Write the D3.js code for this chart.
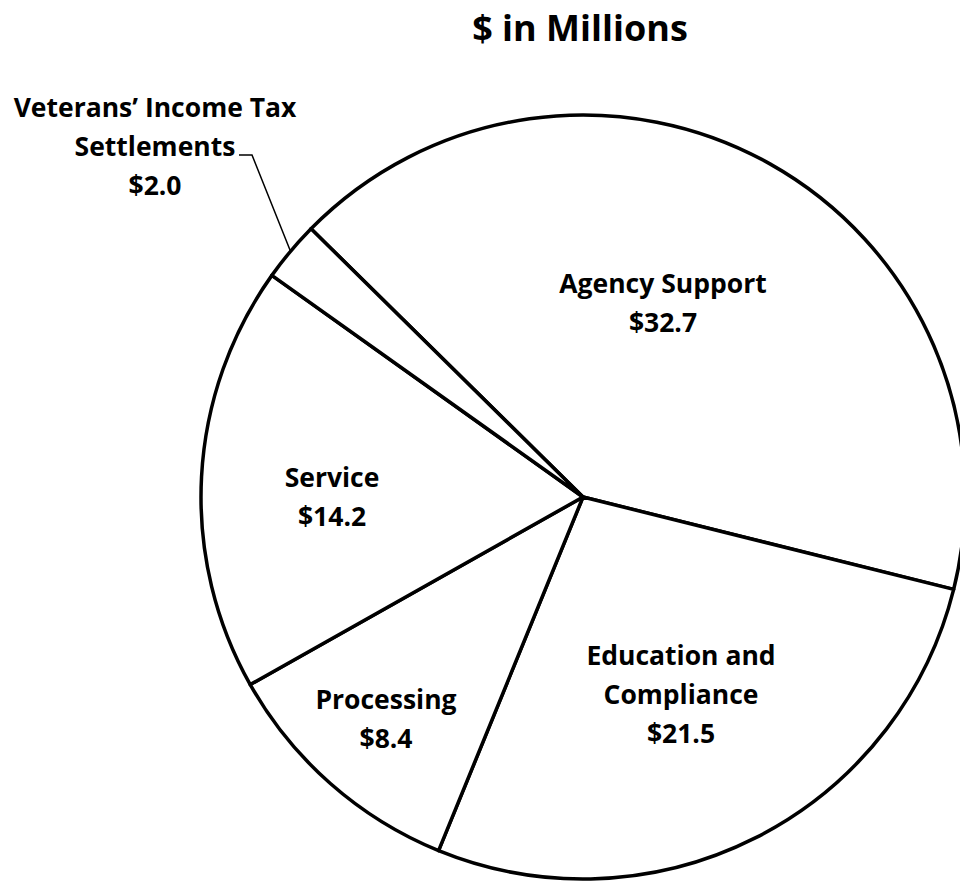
<!DOCTYPE html>
<html>
<head>
<meta charset="utf-8">
<script src="https://cdn.jsdelivr.net/npm/d3@7"></script>
<style>
  body { margin: 0; background: #fff; }
  text { font-family: "Open Sans", "Noto Sans", sans-serif; font-weight: bold; fill: #000; }
</style>
</head>
<body>
<script>
var width = 960, height = 882;
var cx = 583, cy = 497, radius = 382;

// data ($ in millions)
var categories = ["Agency Support", "Education and Compliance", "Processing", "Service", "Veterans\u2019 Income Tax Settlements"];
var values = [32.7, 21.5, 8.4, 14.2, 2.0];
var labelLines = [
   ["Agency Support"],
   ["Education and", "Compliance"],
   ["Processing"],
   ["Service"],
   ["Veterans\u2019 Income Tax", "Settlements"]
];
// label anchors, offset from pie centre (first baseline)
var labelPos = [[80, -204], [98, 168], [-197, 212], [-251, -10], [-428, -380]];

var startDeg = -45.4;

var svg = d3.select("body").append("svg")
   .attr("width", width)
   .attr("height", height);

svg.append("text")
   .attr("x", 580)
   .attr("y", 41)
   .attr("text-anchor", "middle")
   .style("font-size", "36px")
   .text("$ in Millions");

var pie = d3.pie()
   .sort(null)
   .startAngle(startDeg * Math.PI / 180)
   .endAngle((startDeg + 360) * Math.PI / 180);

var arc = d3.arc().innerRadius(0).outerRadius(radius);

var g = svg.append("g").attr("transform", "translate(" + cx + "," + cy + ")");

var slices = pie(values);

g.selectAll("path")
   .data(slices)
   .enter()
   .append("path")
   .attr("d", arc)
   .style("fill", "#fff")
   .style("stroke", "#000")
   .style("stroke-width", 3.5)
   .style("stroke-linejoin", "round");

// labels
slices.forEach(function (d, i) {
   var lines = labelLines[i].concat(["$" + values[i].toFixed(1)]);
   var t = g.append("text")
      .attr("text-anchor", "middle")
      .style("font-size", "26.5px");
   lines.forEach(function (s, j) {
      t.append("tspan")
         .attr("x", labelPos[i][0])
         .attr("y", labelPos[i][1] + j * 39)
         .text(s);
   });
});

// leader line for the small slice
var vet = slices[4];
var mid = (vet.startAngle + vet.endAngle) / 2;
var px = radius * Math.sin(mid), py = -radius * Math.cos(mid);
g.append("polyline")
   .attr("points", [[px, py], [-331, -342], [-344, -342]].map(function (p) { return p.join(","); }).join(" "))
   .style("fill", "none")
   .style("stroke", "#000")
   .style("stroke-width", 1.5);
</script>
</body>
</html>
